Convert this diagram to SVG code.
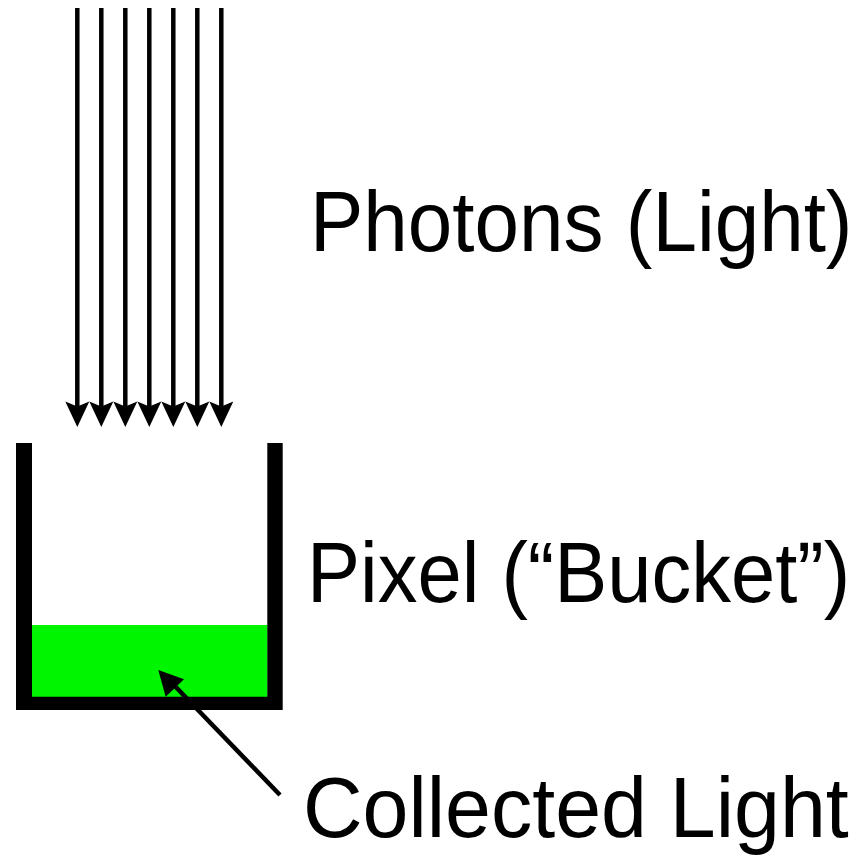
<svg xmlns="http://www.w3.org/2000/svg" width="862" height="857" viewBox="0 0 862 857">
<style>
.ray{stroke:#000;stroke-width:4.5;fill:none}
.head{fill:#000}
.lbl{font-family:"Liberation Sans",Arial,Helvetica,sans-serif;fill:#000}
</style>
<defs>
<polygon id="ah" class="head" points="0,427 -12,401.5 0,406.5 12,401.5"/>
</defs>
<rect width="862" height="857" fill="#fff"/>
<g id="bucket">
<rect x="32" y="625" width="235.5" height="72" fill="#00f500"/>
<path d="M16,443 H32 V696.7 H267.3 V443 H282.7 V710 H16 Z" fill="#000"/>
</g>
<g id="connectors">
<g id="photon-rays">
<line class="ray" x1="77.3" y1="8" x2="77.3" y2="408"/>
<line class="ray" x1="101.3" y1="8" x2="101.3" y2="408"/>
<line class="ray" x1="125.3" y1="8" x2="125.3" y2="408"/>
<line class="ray" x1="149.3" y1="8" x2="149.3" y2="408"/>
<line class="ray" x1="173.3" y1="8" x2="173.3" y2="408"/>
<line class="ray" x1="197.3" y1="8" x2="197.3" y2="408"/>
<line class="ray" x1="221.3" y1="8" x2="221.3" y2="408"/>
<use href="#ah" x="77.3"/>
<use href="#ah" x="101.3"/>
<use href="#ah" x="125.3"/>
<use href="#ah" x="149.3"/>
<use href="#ah" x="173.3"/>
<use href="#ah" x="197.3"/>
<use href="#ah" x="221.3"/>
</g>
<g id="collected-arrow">
<line class="ray" x1="280" y1="795" x2="170" y2="681"/>
<polygon class="head" points="158.3,670 184,679.3 165.7,696.7"/>
</g>
</g>
<g id="label-photons" transform="translate(310,251) scale(1,1.075)"><text class="lbl" x="0" y="0" font-size="80">Photons (Light)</text></g>
<g id="label-pixel" transform="translate(307,602) scale(1,1.082)"><text class="lbl" x="0" y="0" font-size="79.5">Pixel (“Bucket”)</text></g>
<g id="label-collected" transform="translate(303,837) scale(1,1.042)"><text class="lbl" x="0" y="0" font-size="82.5">Collected Light</text></g>
</svg>
